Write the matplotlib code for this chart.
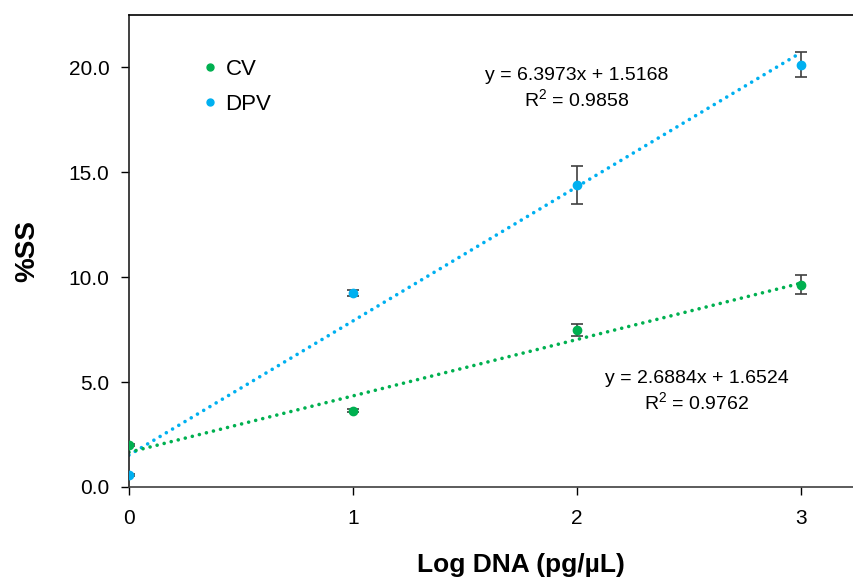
import numpy as np
import matplotlib
matplotlib.use("Agg")
from matplotlib import pyplot as plt

plt.rcParams['font.family'] = ['Liberation Sans', 'DejaVu Sans']

log_dna = [0, 1, 2, 3]

cv = [2.0, 3.63, 7.49, 9.64]
cv_err = [0.05, 0.08, 0.3, 0.45]
dpv = [0.57, 9.26, 14.41, 20.14]
dpv_err = [0.05, 0.15, 0.9, 0.6]

cv_fit = (2.6884, 1.6524, 0.9762)
dpv_fit = (6.3973, 1.5168, 0.9858)

green = "#00B050"
blue = "#00B0F0"

fig = plt.figure(figsize=(8.54, 5.79), dpi=100)
ax = fig.add_axes([0.151, 0.159, 0.849, 0.815])

xx = np.array([0, 3])
ax.plot(xx, dpv_fit[0] * xx + dpv_fit[1], ls=(0, (0.01, 2.0)), lw=2.6,
        color=blue, dash_capstyle="round", zorder=2)
ax.plot(xx, cv_fit[0] * xx + cv_fit[1], ls=(0, (0.01, 2.0)), lw=2.6,
        color=green, dash_capstyle="round", zorder=2)

ax.errorbar(log_dna, cv, yerr=cv_err, fmt="o", ms=6, color=green,
            ecolor="#404040", elinewidth=1.2, capsize=4, capthick=1.2,
            zorder=3)
ax.errorbar(log_dna, dpv, yerr=dpv_err, fmt="o", ms=6, color=blue,
            ecolor="#404040", elinewidth=1.2, capsize=4, capthick=1.2,
            zorder=3)

ax.set_xlim(0, 3.237)
ax.set_ylim(0, 22.5)
ax.set_xticks([0, 1, 2, 3])
ax.set_yticks([0, 5, 10, 15, 20])
ax.set_yticklabels(["%.1f" % v for v in [0, 5, 10, 15, 20]])
ax.tick_params(labelsize=15, length=6, width=1, direction="out", pad=8)
ax.tick_params(axis="x", pad=10)
ax.spines["right"].set_visible(False)
for s in ["left", "top", "bottom"]:
    ax.spines[s].set_linewidth(1.2)
ax.spines["bottom"].set_color("#404040")
ax.spines["left"].set_color("#202020")

ax.set_xlabel("Log DNA (pg/µL)", fontsize=19, fontweight="bold", va="center")
ax.xaxis.set_label_coords(0.54, -0.165)
ax.set_ylabel("%SS", fontsize=20, fontweight="bold", va="center")
ax.yaxis.set_label_coords(-0.14, 0.5)

handles = [plt.Line2D([], [], ls="", marker="o", ms=5, color=c) for c in [green, blue]]
ax.legend(handles, ["CV", "DPV"], loc="upper left", bbox_to_anchor=(0.075, 0.95),
          frameon=False, fontsize=16, handlelength=0.6, handletextpad=0.4,
          labelspacing=0.65)

ax.text(2.0, 19.0, "y = %.4fx + %.4f\n$\\mathregular{R^2}$ = %.4f" % dpv_fit,
        ha="center", va="center", fontsize=14, linespacing=1.25)
ax.text(2.536, 4.55, "y = %.4fx + %.4f\n$\\mathregular{R^2}$ = %.4f" % cv_fit,
        ha="center", va="center", fontsize=14, linespacing=1.25)

fig.savefig("out.png", dpi=100)
